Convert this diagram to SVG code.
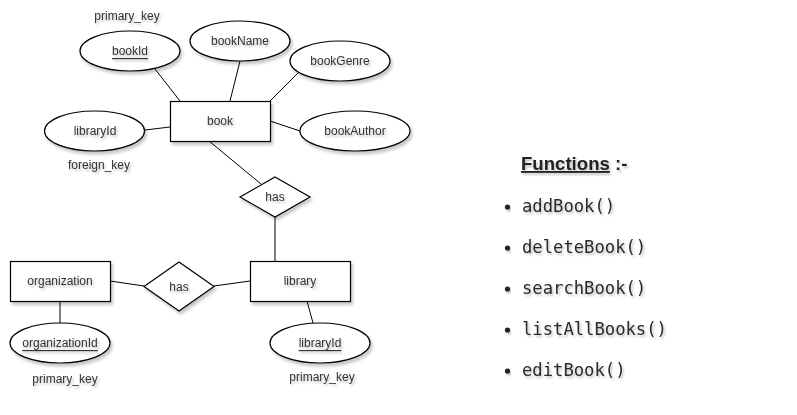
<svg xmlns="http://www.w3.org/2000/svg" width="797" height="415" viewBox="0 0 797 415">
<defs>
<filter id="sh" x="-20%" y="-20%" width="140%" height="150%">
<feDropShadow dx="2" dy="3" stdDeviation="1.5" flood-color="#000" flood-opacity="0.22"/>
</filter>
<filter id="tsh" x="-10%" y="-30%" width="120%" height="180%">
<feDropShadow dx="1.5" dy="2" stdDeviation="1.2" flood-color="#000" flood-opacity="0.25"/>
</filter>
</defs>
<style>
.s{fill:#fff;stroke:#000;stroke-width:1.2;filter:url(#sh)}
.c line{stroke:#000;stroke-width:1}
.t{font-family:"Liberation Sans",Arial,sans-serif;font-size:12px;fill:#333;text-anchor:middle;dominant-baseline:central;filter:url(#tsh)}
.u{text-decoration:underline}
.f{font-family:"DejaVu Sans Mono","Liberation Mono",monospace;font-size:17.2px;fill:#2a2a2a;filter:url(#tsh)}
.h{font-family:"Liberation Sans",Arial,sans-serif;font-size:18.6px;font-weight:bold;fill:#222;filter:url(#tsh)}
</style>
<rect width="797" height="415" fill="#fff"/>
<g class="c" id="connectors">
<line x1="155" y1="69" x2="180" y2="101"/>
<line x1="240" y1="61" x2="230" y2="101"/>
<line x1="298" y1="73" x2="270" y2="101"/>
<line x1="145" y1="130" x2="170" y2="127"/>
<line x1="270" y1="121" x2="300" y2="131"/>
<line x1="209" y1="141" x2="261" y2="184"/>
<line x1="275" y1="217" x2="275" y2="261"/>
<line x1="110" y1="281" x2="144" y2="286"/>
<line x1="214" y1="286" x2="250" y2="281"/>
<line x1="60" y1="301" x2="60" y2="323"/>
<line x1="307" y1="301" x2="313" y2="323"/>
</g>
<g id="book"><rect class="s" x="170.5" y="101.5" width="100" height="40"/><text class="t" x="220" y="121">book</text></g>
<g id="bookId"><ellipse class="s" cx="130" cy="51" rx="50" ry="20"/><text class="t u" x="130" y="51">bookId</text></g>
<g id="bookName"><ellipse class="s" cx="240" cy="41" rx="50" ry="20"/><text class="t" x="240" y="41">bookName</text></g>
<g id="bookGenre"><ellipse class="s" cx="340" cy="61" rx="50" ry="20"/><text class="t" x="340" y="61">bookGenre</text></g>
<g id="libraryIdFk"><ellipse class="s" cx="94.5" cy="131" rx="50" ry="20"/><text class="t" x="95" y="131">libraryId</text></g>
<g id="bookAuthor"><ellipse class="s" cx="355" cy="131" rx="55" ry="20"/><text class="t" x="355" y="131">bookAuthor</text></g>
<g id="has1"><polygon class="s" points="275,177 310,197 275,217 240,197"/><text class="t" x="275" y="197">has</text></g>
<g id="library"><rect class="s" x="250.5" y="261.5" width="100" height="40"/><text class="t" x="300" y="281">library</text></g>
<g id="organization"><rect class="s" x="10.5" y="261.5" width="100" height="40"/><text class="t" x="60" y="281">organization</text></g>
<g id="has2"><polygon class="s" points="179,262 214,286.5 179,311 144,286.5"/><text class="t" x="179" y="286.5">has</text></g>
<g id="organizationId"><ellipse class="s" cx="60" cy="343" rx="50" ry="20"/><text class="t u" x="60" y="343">organizationId</text></g>
<g id="libraryIdPk"><ellipse class="s" cx="320" cy="343" rx="50" ry="20"/><text class="t u" x="320" y="343">libraryId</text></g>
<g id="labels">
<text class="t" x="127" y="16">primary_key</text>
<text class="t" x="99" y="165">foreign_key</text>
<text class="t" x="65" y="379">primary_key</text>
<text class="t" x="322" y="377">primary_key</text>
</g>
<g id="functions">
<text class="h" x="521" y="170"><tspan text-decoration="underline">Functions</tspan> :-</text>
<g fill="#222" filter="url(#tsh)">
<circle cx="507.5" cy="207" r="2.6"/>
<circle cx="507.5" cy="248" r="2.6"/>
<circle cx="507.5" cy="289" r="2.6"/>
<circle cx="507.5" cy="330" r="2.6"/>
<circle cx="507.5" cy="371" r="2.6"/>
</g>
<text class="f" x="522" y="212">addBook()</text>
<text class="f" x="522" y="253">deleteBook()</text>
<text class="f" x="522" y="294">searchBook()</text>
<text class="f" x="522" y="335">listAllBooks()</text>
<text class="f" x="522" y="376">editBook()</text>
</g>
</svg>
